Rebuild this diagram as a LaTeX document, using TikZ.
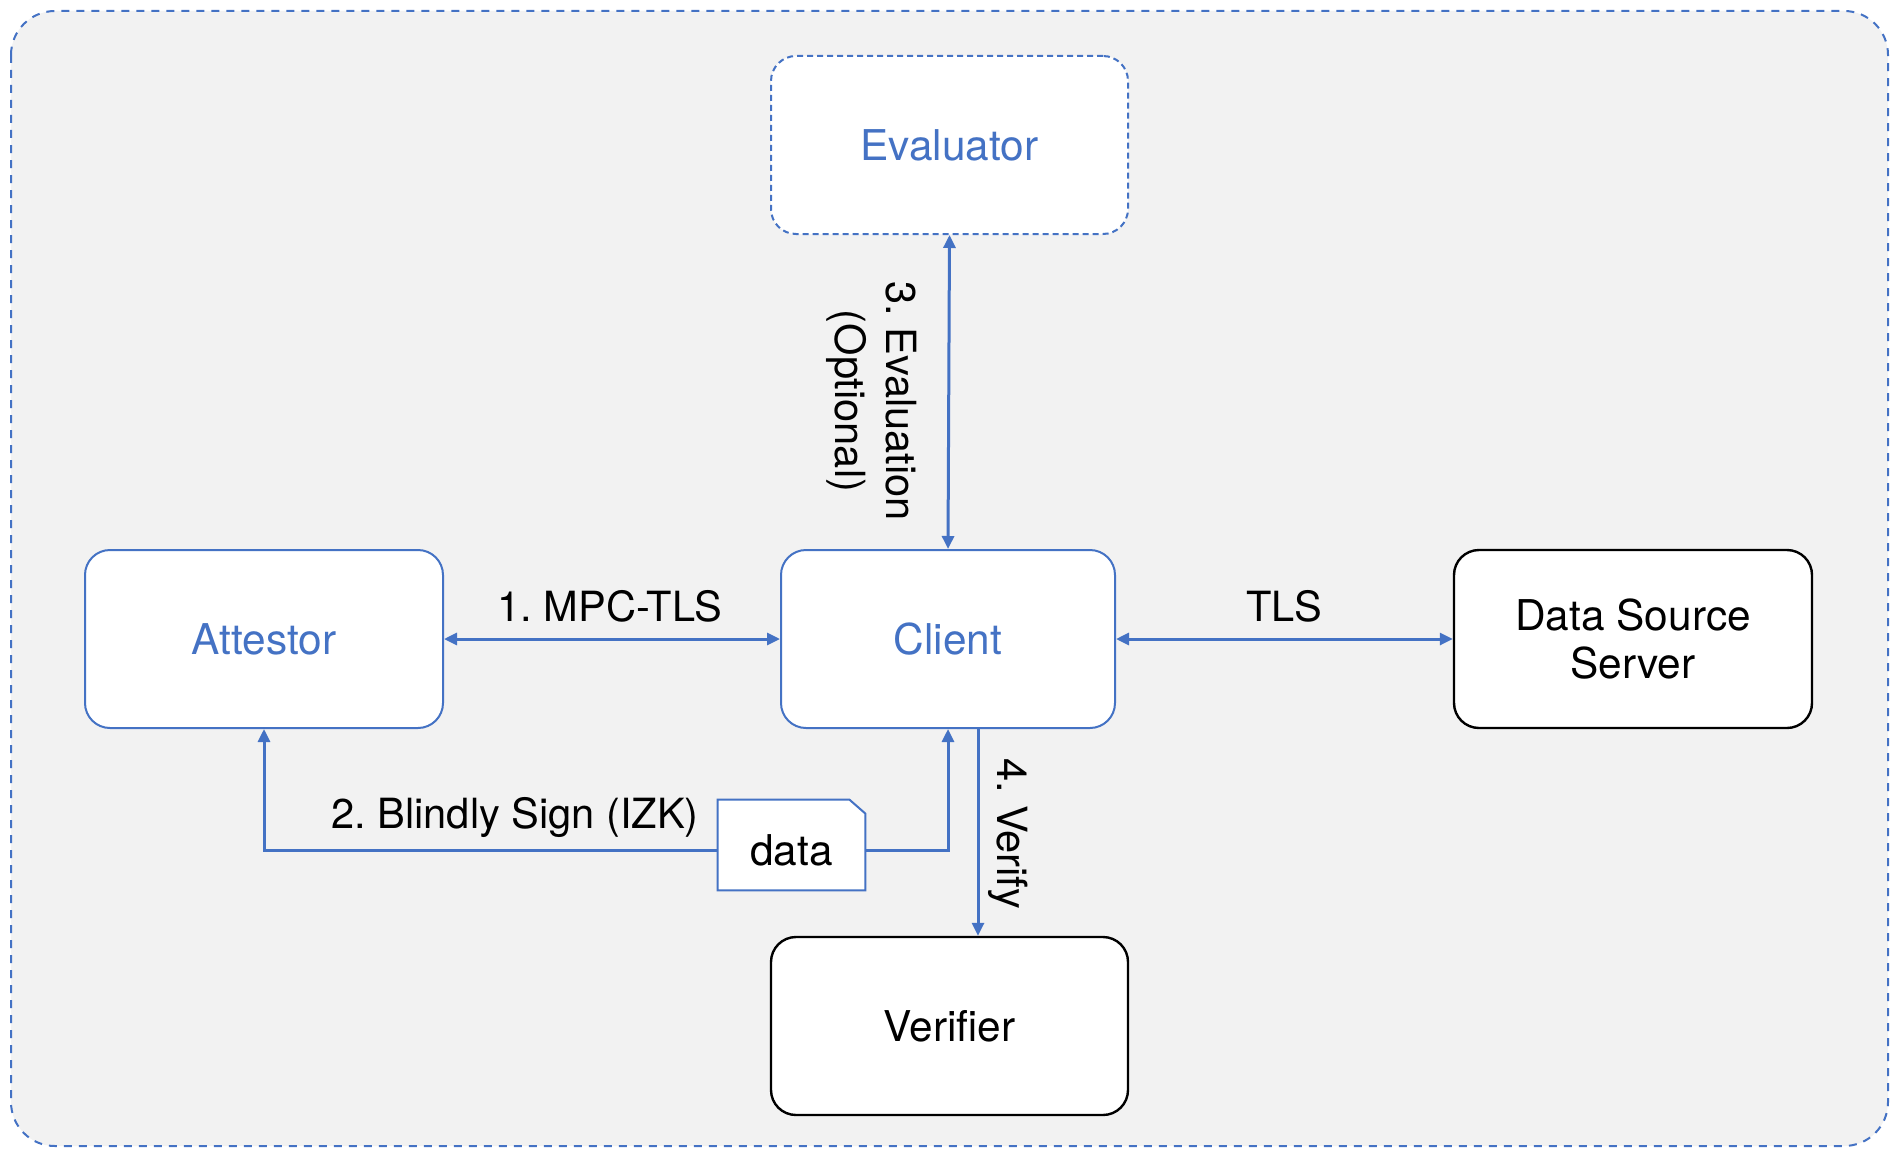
\documentclass[tikz,border=0pt]{standalone}
\usepackage{fontspec}
\setmainfont{TeX Gyre Heros}
\usetikzlibrary{arrows.meta}
\definecolor{cblue}{HTML}{4472C4}
\definecolor{bgray}{HTML}{F2F2F2}
\frenchspacing
\tikzset{
  box/.style={draw=black, line width=1.2pt, fill=white, rounded corners=12.5pt, minimum width=179pt, minimum height=89pt, inner sep=0pt, font=\fontsize{21.2}{24}\selectfont, align=center},
  bluebox/.style={box, draw=cblue, line width=1pt, text=cblue},
  conn/.style={draw=cblue, line width=1.5pt, arrows={-Triangle[length=6.5pt,width=6pt]}},
  bconn/.style={conn, arrows={Triangle[length=6.5pt,width=6pt]-Triangle[length=6.5pt,width=6pt]}},
  lbl/.style={font=\fontsize{20.8}{25.5}\selectfont, text=black, align=center, inner sep=0pt}
}
\begin{document}
\begin{tikzpicture}[x=0.5pt,y=-0.5pt]
\useasboundingbox (0,0) rectangle (1894,1156);
\draw[cblue, line width=1pt, dash pattern=on 4pt off 3.5pt, fill=bgray, rounded corners=22pt] (11,11) rectangle (1888,1146);

\node[bluebox, minimum width=178.5pt, dash pattern=on 3pt off 2pt] (eva) at (949.5,145) {Evaluator};
\node[bluebox] (att) at (264,639) {Attestor};
\node[bluebox, minimum width=167pt] (cli) at (948,639) {Client};
\node[box] (dss) at (1633,639) {Data Source\\Server};
\node[box, minimum width=178.5pt] (ver) at (949.5,1026) {Verifier};

% data note
\node[minimum width=73.5pt, minimum height=45pt, inner sep=0pt] (data) at (791.5,845) {};
\fill[white] (data.south west) -- (data.north west) -- ([xshift=-8pt]data.north east) -- ([yshift=-7pt]data.north east) -- (data.south east) -- cycle;
\draw[cblue, line width=1pt] (data.south west) -- (data.north west) -- ([xshift=-8pt]data.north east) -- ([yshift=-7pt]data.north east) -- (data.south east) -- cycle;
\node[inner sep=0pt, font=\fontsize{21.2}{24}\selectfont] (datatxt) at (791.5,850) {data};
\coordinate (dl) at ([yshift=-2.5pt]data.west);
\coordinate (dr) at ([yshift=-2.5pt]data.east);

% connectors
\draw[bconn] (att.east) -- (cli.west);
\draw[bconn] (cli.east) -- (dss.west);
\draw[bconn] (eva.south) -- (cli.north);
\coordinate (vx) at (978,0);
\draw[conn] (vx |- cli.south) -- (vx |- ver.north);
\draw[conn] (dl) -| (att.south);
\draw[conn] (dr) -| (cli.south);

% labels
\node[lbl] (l1) at (610,606) {1. MPC-TLS};
\node[lbl] (l2) at (1284,606) {TLS};
\node[lbl, rotate=-90] (l3) at (872,401) {3. Evaluation\\(Optional)};
\node[lbl, rotate=-90] (l4) at (1008,834) {4. Verify};
\node[lbl] (l5) at (515,817) {2. Blindly Sign (IZK)};
\end{tikzpicture}
\end{document}
